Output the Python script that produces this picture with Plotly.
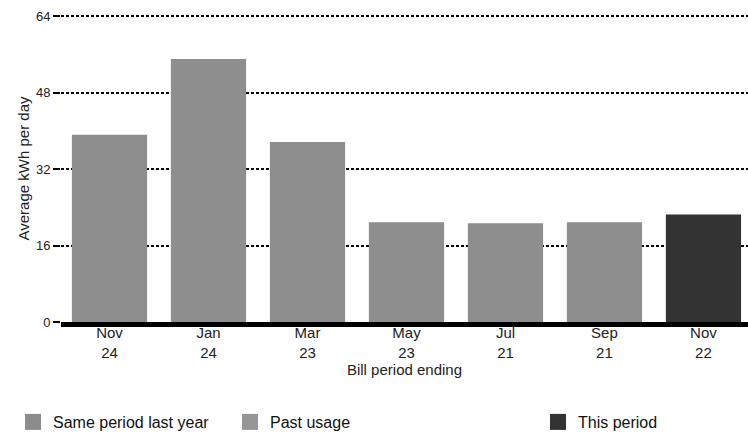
import plotly.graph_objects as go

categories = ["Nov<br>24", "Jan<br>24", "Mar<br>23", "May<br>23", "Jul<br>21", "Sep<br>21", "Nov<br>22"]
values = [39.2, 55.1, 37.7, 20.9, 20.7, 20.9, 22.5]
groups = ["Same period last year", "Past usage", "Past usage", "Past usage",
          "Past usage", "Past usage", "This period"]
legend_names = ["Same period last year", "Past usage", "This period"]
bar_colors = {"Same period last year": "#8e8e8e", "Past usage": "#8e8e8e", "This period": "#333333"}
legend_colors = {"Same period last year": "#8c8c8c", "Past usage": "#969696", "This period": "#333333"}
y_ticks = [0, 16, 32, 48, 64]

FONT = "Liberation Sans, Arial, sans-serif"

fig = go.Figure()
fig.add_trace(go.Bar(
    x=categories, y=values,
    marker=dict(color=[bar_colors[g] for g in groups], line=dict(width=0)),
    showlegend=False, hoverinfo="skip",
))

legend_keys = ["legend", "legend2", "legend3"]
for name, lk in zip(legend_names, legend_keys):
    fig.add_trace(go.Scatter(
        x=[None], y=[None], mode="markers", name=name, legend=lk,
        marker=dict(symbol="square", size=20, color=legend_colors[name]),
        showlegend=True,
    ))

legend_x = [13, 230, 538]
common_legend = dict(
    orientation="h", xref="container", yref="container",
    xanchor="left", yanchor="middle", y=1 - 422 / 436,
    font=dict(family=FONT, size=16, color="#111"),
    bgcolor="rgba(0,0,0,0)", borderwidth=0, itemsizing="trace",
)

fig.update_layout(
    width=748, height=436,
    margin=dict(l=61, r=0, t=15, b=114),
    paper_bgcolor="white", plot_bgcolor="white",
    bargap=0.24,
    font=dict(family=FONT, color="#222"),
    xaxis=dict(
        type="category", categoryorder="array", categoryarray=categories,
        range=[-0.49, 6.45],
        showgrid=False, showline=True, linecolor="black", linewidth=5,
        ticks="", tickfont=dict(size=15, color="#222"), ticklabelstandoff=-7,
        title=dict(text="Bill period ending", font=dict(size=15, color="#222"), standoff=4),
        fixedrange=True,
    ),
    yaxis=dict(
        range=[0, 64.3], tickvals=y_ticks, ticktext=[str(t) for t in y_ticks],
        showgrid=True, gridcolor="black", gridwidth=2, griddash="3px,2px",
        zeroline=False, showline=False,
        ticks="outside", ticklen=7, tickwidth=2, tickcolor="black",
        tickfont=dict(size=13, color="#222"),
        title=dict(text="Average kWh per day", font=dict(size=15, color="#222"), standoff=2),
        fixedrange=True,
    ),
    legend=dict(x=legend_x[0] / 748, **common_legend),
    legend2=dict(x=legend_x[1] / 748, **common_legend),
    legend3=dict(x=legend_x[2] / 748, **common_legend),
)

fig.write_html("out.html")
